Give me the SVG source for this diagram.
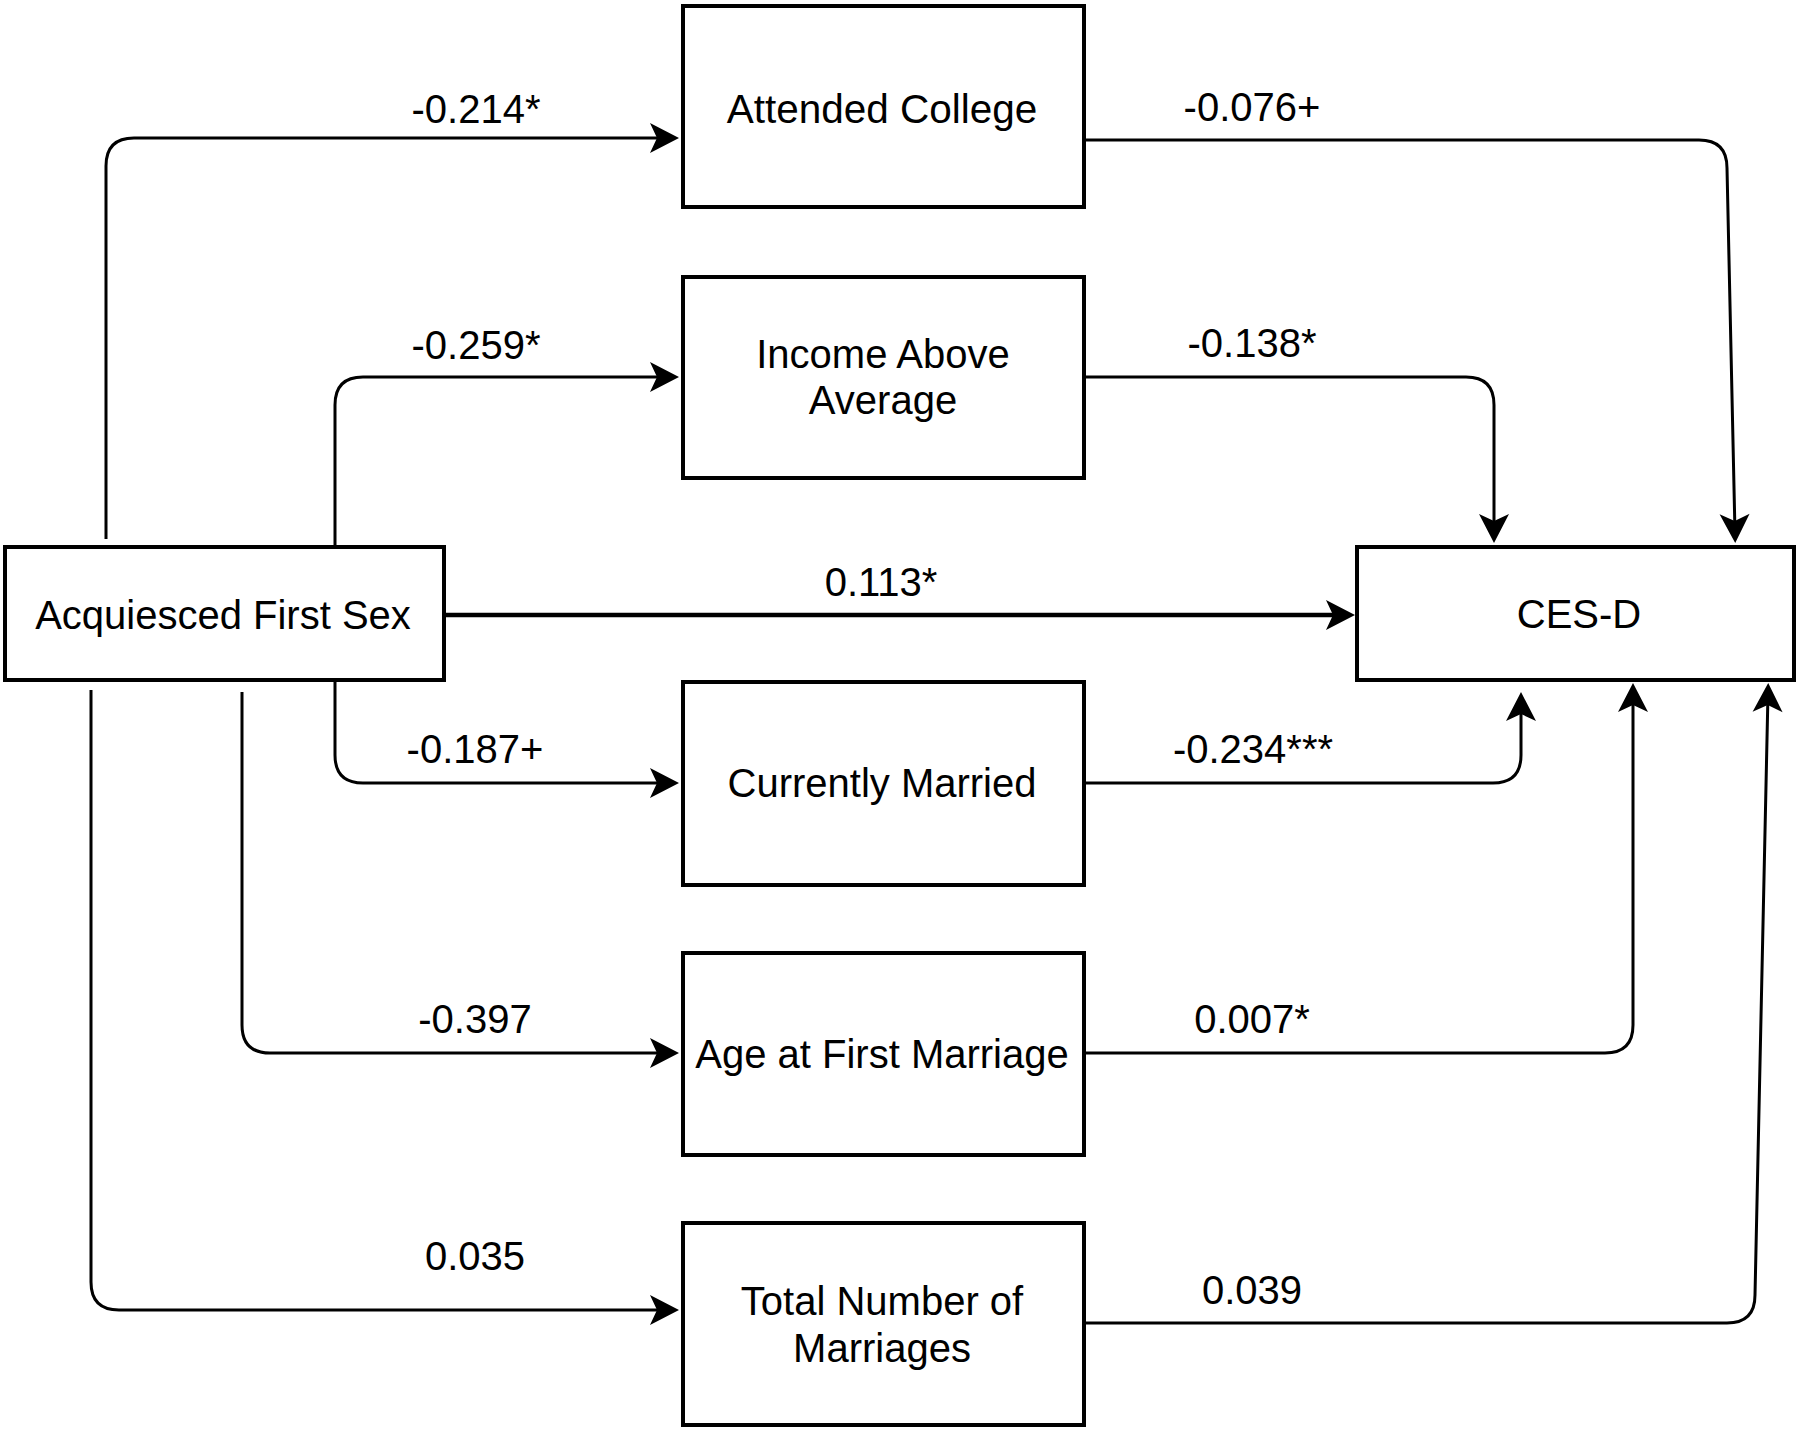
<svg xmlns="http://www.w3.org/2000/svg" width="1800" height="1432" viewBox="0 0 1800 1432">
<style>
.box{fill:#fff;stroke:#000;stroke-width:4}
.lbl{font-family:"Liberation Sans",Arial,sans-serif;font-size:40px;fill:#000;text-anchor:middle}
.edge{fill:none;stroke:#000;stroke-width:3;marker-end:url(#arr)}
.thick{stroke-width:4.5}
</style>
<defs>
<marker id="arr" markerUnits="userSpaceOnUse" markerWidth="60" markerHeight="40" viewBox="-30 -20 60 40" refX="0" refY="0" orient="auto" overflow="visible">
<path d="M10,0 L-19,-15 L-12,0 L-19,15 Z" fill="#000"/>
</marker>
</defs>
<rect width="1800" height="1432" fill="#fff"/>
<g id="connectors">
<path class="edge" d="M106,539 V166 Q106,138 134,138 H669"/>
<path class="edge" d="M335,545 V405 Q335,377 363,377 H669"/>
<path class="edge thick" d="M446,615 H1345"/>
<path class="edge" d="M335,682 V755 Q335,783 363,783 H669"/>
<path class="edge" d="M242,692 V1025 Q242,1053 270,1053 H669"/>
<path class="edge" d="M91,690 V1282 Q91,1310 119,1310 H669"/>
<path class="edge" d="M1086,140 H1699 Q1727,140 1727,168 L1735,533"/>
<path class="edge" d="M1086,377 H1466 Q1494,377 1494,405 V533"/>
<path class="edge" d="M1086,783 H1493 Q1521,783 1521,755 V702"/>
<path class="edge" d="M1086,1053 H1605 Q1633,1053 1633,1025 V693"/>
<path class="edge" d="M1086,1323 H1727 Q1755,1323 1755,1295 L1768,693"/>
<text class="lbl" x="476" y="123">-0.214*</text>
<text class="lbl" x="476" y="359">-0.259*</text>
<text class="lbl" x="881" y="596">0.113*</text>
<text class="lbl" x="475" y="763">-0.187+</text>
<text class="lbl" x="475" y="1033">-0.397</text>
<text class="lbl" x="475" y="1270">0.035</text>
<text class="lbl" x="1252" y="121">-0.076+</text>
<text class="lbl" x="1252" y="357">-0.138*</text>
<text class="lbl" x="1253" y="763">-0.234***</text>
<text class="lbl" x="1252" y="1033">0.007*</text>
<text class="lbl" x="1252" y="1304">0.039</text>
</g>
<g id="acquiesced">
<rect class="box" x="5" y="547" width="439" height="133"/>
<text class="lbl" x="223" y="629">Acquiesced First Sex</text>
</g>
<g id="cesd">
<rect class="box" x="1357" y="547" width="437" height="133"/>
<text class="lbl" x="1579" y="628">CES-D</text>
</g>
<g id="attended">
<rect class="box" x="683" y="6" width="401" height="201"/>
<text class="lbl" x="882" y="123" style="font-size:40.5px">Attended College</text>
</g>
<g id="income">
<rect class="box" x="683" y="277" width="401" height="201"/>
<text class="lbl" x="883" y="368">Income Above</text>
<text class="lbl" x="883" y="414">Average</text>
</g>
<g id="married">
<rect class="box" x="683" y="682" width="401" height="203"/>
<text class="lbl" x="882" y="797">Currently Married</text>
</g>
<g id="age">
<rect class="box" x="683" y="953" width="401" height="202"/>
<text class="lbl" x="882" y="1068">Age at First Marriage</text>
</g>
<g id="total">
<rect class="box" x="683" y="1223" width="401" height="202"/>
<text class="lbl" x="882" y="1315">Total Number of</text>
<text class="lbl" x="882" y="1362">Marriages</text>
</g>
</svg>
